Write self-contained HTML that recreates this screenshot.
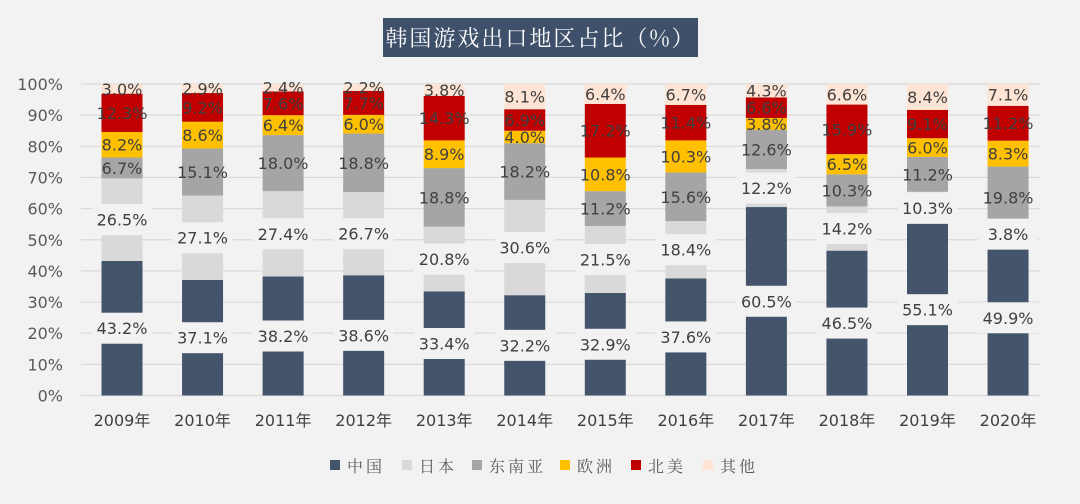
<!DOCTYPE html>
<html><head><meta charset="utf-8"><style>
body{margin:0;background:#fff;}
#wrap{position:relative;width:1080px;height:504px;background:#f2f2f2;overflow:hidden;}
#title{position:absolute;left:383px;top:18px;width:315px;height:39px;background:#3f506a;color:#fff;font:22px "Noto Serif CJK SC",serif;line-height:39px;text-align:center;letter-spacing:2px;}
</style></head><body>
<div id="wrap">
<div id="title">韩国游戏出口地区占比（%）</div>
<svg id="chart" width="1080" height="504" style="position:absolute;left:0;top:0"></svg>
</div>
<script>
const years=["2009年","2010年","2011年","2012年","2013年","2014年","2015年","2016年","2017年","2018年","2019年","2020年"];
const seriesNames=["中国","日本","东南亚","欧洲","北美","其他"];
const china=[43.2,37.1,38.2,38.6,33.4,32.2,32.9,37.6,60.5,46.5,55.1,49.9];
const japan=[26.5,27.1,27.4,26.7,20.8,30.6,21.5,18.4,12.2,14.2,10.3,3.8];
const sea=[6.7,15.1,18.0,18.8,18.8,18.2,11.2,15.6,12.6,10.3,11.2,19.8];
const europe=[8.2,8.6,6.4,6.0,8.9,4.0,10.8,10.3,3.8,6.5,6.0,8.3];
const northAmerica=[12.3,9.2,7.6,7.7,14.3,6.9,17.2,11.4,6.6,15.9,9.1,11.2];
const other=[3.0,2.9,2.4,2.2,3.8,8.1,6.4,6.7,4.3,6.6,8.4,7.1];
const yTicks=[0,10,20,30,40,50,60,70,80,90,100];

const series=[china,japan,sea,europe,northAmerica,other];
const colors=["#44546a","#d9d9d9","#a5a5a5","#ffc000","#c00000","#fde4d5"];
const keys=["china","japan","sea","europe","north-america","other"];
const NS="http://www.w3.org/2000/svg";
const svg=document.getElementById('chart');
const y0=395.5,pxPer=3.115;
const yS=v=>y0-v*pxPer;
const xS=i=>122+i*80.55;
const bw=41;
function mk(t,a,p){const e=document.createElementNS(NS,t);for(const k in a)e.setAttribute(k,a[k]);(p||svg).appendChild(e);return e;}
const F='"DejaVu Sans","Noto Sans CJK SC",sans-serif';
yTicks.forEach(t=>{
  const l=mk('line',{x1:81,x2:1040,y1:yS(t),y2:yS(t),stroke:'#d9d9d9','stroke-width':1.2});
  
  
  const tx=mk('text',{x:63,y:yS(t)+6,'text-anchor':'end','font-family':F,'font-size':16,fill:'#595959'});
  tx.textContent=t+'%';
  
  
});
const labelLayer=[];
years.forEach((yr,i)=>{
  let cum=0;
  series.forEach((s,k)=>{
    const v=s[i];
    const r=mk('rect',{x:xS(i)-bw/2,y:yS(cum+v),width:bw,height:v*pxPer,fill:colors[k]});
    
    
    labelLayer.push({i,k,v,mid:cum+v/2});
    cum+=v;
  });
  const t=mk('text',{x:xS(i),y:426,'text-anchor':'middle','font-family':F,'font-size':16,fill:'#404040'});
  t.textContent=yr;
  
  
});
labelLayer.forEach(o=>{
  const cy=yS(o.mid);
  if(o.k<2){
    const b=mk('rect',{x:xS(o.i)-30,y:cy-15.5,width:60,height:31,fill:'#f2f2f2'});
    
    
  }
  const t=mk('text',{x:xS(o.i),y:cy+6,'text-anchor':'middle','font-family':F,'font-size':16,fill:'#404040'});
  t.textContent=o.v.toFixed(1)+'%';
  
  
});
const lx=[330,402,472,560,631,703];
seriesNames.forEach((n,k)=>{
  const r=mk('rect',{x:lx[k],y:460,width:10,height:10,fill:colors[k]});
  
  
  const t=mk('text',{x:lx[k]+17,y:472,'font-family':'"Noto Serif CJK SC",serif','font-size':16,fill:'#595959','letter-spacing':3});
  t.textContent=n;
  
  
});
</script>
</body></html>
